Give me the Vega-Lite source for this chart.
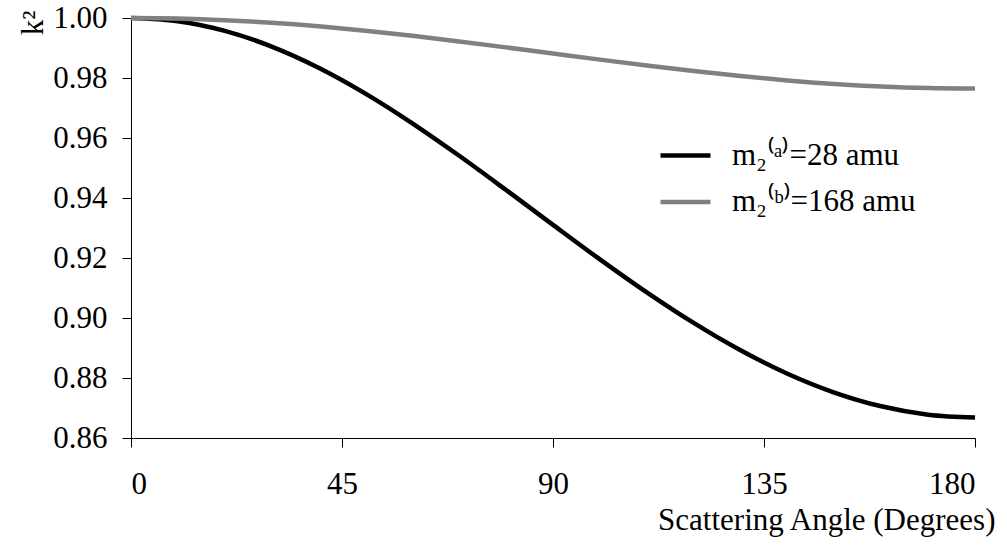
{
  "$schema": "https://vega.github.io/schema/vega-lite/v6.json",
  "autosize": {"type": "none"},
  "padding": {"left": 131, "top": 18, "right": 32, "bottom": 107},
  "width": 844,
  "height": 420,
  "background": "white",
  "config": {
    "view": {"stroke": null},
    "font": "Liberation Serif",
    "axis": {
      "grid": false,
      "domainColor": "#000000",
      "domainWidth": 1,
      "tickColor": "#000000",
      "tickWidth": 1,
      "tickSize": 9,
      "labelColor": "#000000",
      "labelFont": "Liberation Serif",
      "labelFontSize": 31,
      "titleFont": "Liberation Serif",
      "titleFontSize": 31,
      "titleFontWeight": "normal",
      "titleColor": "#000000"
    },
    "legend": {
      "labelFont": "Liberation Serif",
      "labelFontSize": 31,
      "labelLimit": 400,
      "labelColor": "#000000"
    }
  },
  "data": {
    "values": [
      {"angle": 0, "k2": 1.0, "series": "a"},
      {"angle": 10, "k2": 0.998916, "series": "a"},
      {"angle": 20, "k2": 0.995701, "series": "a"},
      {"angle": 30, "k2": 0.990475, "series": "a"},
      {"angle": 40, "k2": 0.983425, "series": "a"},
      {"angle": 50, "k2": 0.974803, "series": "a"},
      {"angle": 60, "k2": 0.964907, "series": "a"},
      {"angle": 70, "k2": 0.954074, "series": "a"},
      {"angle": 80, "k2": 0.942662, "series": "a"},
      {"angle": 90, "k2": 0.931034, "series": "a"},
      {"angle": 100, "k2": 0.919549, "series": "a"},
      {"angle": 110, "k2": 0.908552, "series": "a"},
      {"angle": 120, "k2": 0.898352, "series": "a"},
      {"angle": 130, "k2": 0.889232, "series": "a"},
      {"angle": 140, "k2": 0.881435, "series": "a"},
      {"angle": 150, "k2": 0.875161, "series": "a"},
      {"angle": 160, "k2": 0.870567, "series": "a"},
      {"angle": 170, "k2": 0.867767, "series": "a"},
      {"angle": 180, "k2": 0.866825, "series": "a"},
      {"angle": 0, "k2": 1.0, "series": "b"},
      {"angle": 10, "k2": 0.999819, "series": "b"},
      {"angle": 20, "k2": 0.999282, "series": "b"},
      {"angle": 30, "k2": 0.998406, "series": "b"},
      {"angle": 40, "k2": 0.997218, "series": "b"},
      {"angle": 50, "k2": 0.995757, "series": "b"},
      {"angle": 60, "k2": 0.994065, "series": "b"},
      {"angle": 70, "k2": 0.992197, "series": "b"},
      {"angle": 80, "k2": 0.990210, "series": "b"},
      {"angle": 90, "k2": 0.988166, "series": "b"},
      {"angle": 100, "k2": 0.986125, "series": "b"},
      {"angle": 110, "k2": 0.984151, "series": "b"},
      {"angle": 120, "k2": 0.982301, "series": "b"},
      {"angle": 130, "k2": 0.980633, "series": "b"},
      {"angle": 140, "k2": 0.979195, "series": "b"},
      {"angle": 150, "k2": 0.978030, "series": "b"},
      {"angle": 160, "k2": 0.977172, "series": "b"},
      {"angle": 170, "k2": 0.976648, "series": "b"},
      {"angle": 180, "k2": 0.976471, "series": "b"}
    ]
  },
  "mark": {"type": "line", "strokeWidth": 4.5, "interpolate": "monotone", "clip": false},
  "encoding": {
    "x": {
      "field": "angle",
      "type": "quantitative",
      "scale": {"domain": [0, 180], "nice": false},
      "axis": {
        "values": [0, 45, 90, 135, 180],
        "labelAngle": 0,
        "labelPadding": 22,
        "title": "Scattering Angle (Degrees)",
        "titleAnchor": "end",
        "titleAlign": "right",
        "titleBaseline": "alphabetic",
        "titleX": 864,
        "titleY": 91
      }
    },
    "y": {
      "field": "k2",
      "type": "quantitative",
      "scale": {"domain": [0.86, 1.0], "nice": false, "zero": false},
      "axis": {
        "values": [0.86, 0.88, 0.9, 0.92, 0.94, 0.96, 0.98, 1.0],
        "format": ".2f",
        "labelPadding": 15,
        "title": "k²",
        "titleAngle": 270,
        "titleAnchor": "end",
        "titleAlign": "right",
        "titleBaseline": "alphabetic",
        "titleY": -8,
        "titleX": -89
      }
    },
    "color": {
      "field": "series",
      "type": "nominal",
      "scale": {"domain": ["a", "b"], "range": ["#000000", "#808080"]},
      "legend": {
        "title": null,
        "orient": "none",
        "legendX": 527,
        "legendY": 110,
        "padding": 0,
        "symbolType": "stroke",
        "symbolSize": 2500,
        "symbolStrokeWidth": 4.5,
        "labelOffset": 19,
        "rowPadding": 3.5,
        "labelExpr": "datum.value == 'a' ? 'm₂⁽ᵃ⁾=28 amu' : 'm₂⁽ᵇ⁾=168 amu'"
      }
    }
  }
}
